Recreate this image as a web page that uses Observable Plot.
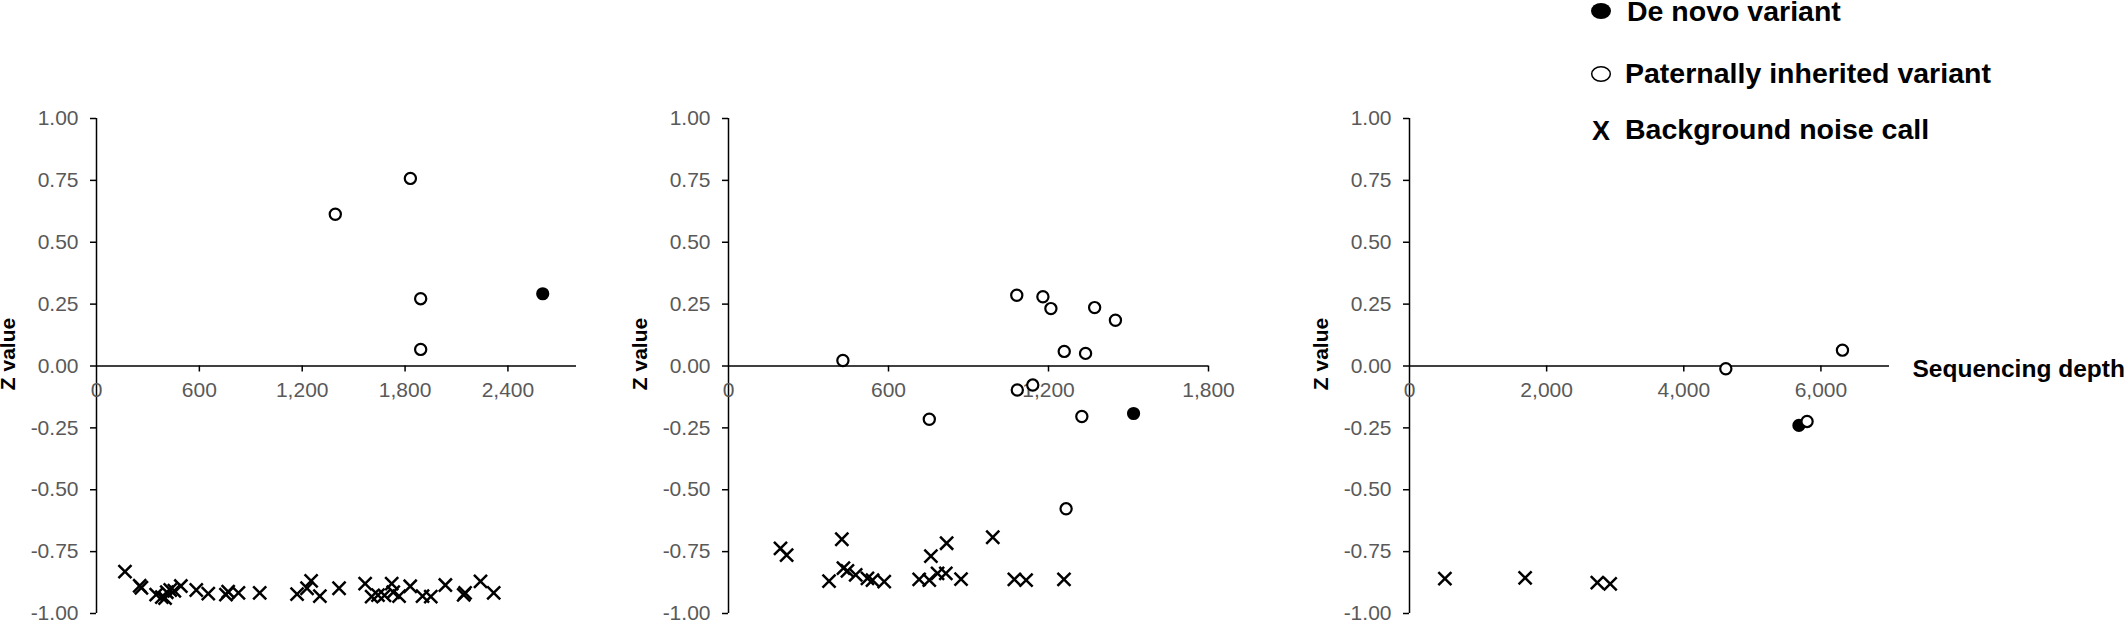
<!DOCTYPE html>
<html>
<head>
<meta charset="utf-8">
<script src="https://cdn.jsdelivr.net/npm/d3@7"></script>
<script src="https://cdn.jsdelivr.net/npm/@observablehq/plot@0.6"></script>
<style>
  html, body { margin: 0; padding: 0; background: #fff; }
  #wrap { position: relative; width: 2126px; height: 622px; overflow: hidden; }
  #wrap > svg, #wrap > figure { position: absolute; top: 0; margin: 0; }
</style>
</head>
<body>
<div id="wrap"></div>
<script>
// ---------- data: [sequencing depth, Z value] ----------
const yTicks = [-1, -0.75, -0.5, -0.25, 0, 0.25, 0.5, 0.75, 1];

const p1Ticks = [0, 600, 1200, 1800, 2400];
const p1DeNovo = [[2603, 0.292]];
const p1Paternal = [[1393, 0.613], [1831, 0.758], [1891, 0.272], [1891, 0.067]];
const p1Noise = [
  [166, -0.831], [252, -0.888], [262, -0.896], [348, -0.924], [381, -0.934], [400, -0.938],
  [410, -0.914], [430, -0.905], [454, -0.908], [492, -0.889], [582, -0.905], [652, -0.920],
  [755, -0.924], [768, -0.912], [828, -0.917], [952, -0.917], [1170, -0.922], [1228, -0.898],
  [1252, -0.868], [1303, -0.930], [1415, -0.898], [1567, -0.879], [1605, -0.932], [1642, -0.926],
  [1680, -0.927], [1722, -0.879], [1731, -0.914], [1765, -0.930], [1830, -0.890], [1902, -0.930],
  [1950, -0.932], [2035, -0.885], [2142, -0.925], [2150, -0.917], [2240, -0.870], [2317, -0.917]
];

const p2Ticks = [0, 600, 1200, 1800];
const p2DeNovo = [[1519, -0.192]];
const p2Paternal = [
  [429, 0.022], [1081, 0.286], [1179, 0.280], [1209, 0.232], [1373, 0.236], [1451, 0.185],
  [1259, 0.059], [1339, 0.051], [1141, -0.077], [1083, -0.097], [753, -0.215], [1325, -0.204],
  [1266, -0.577]
];
const p2Noise = [
  [195, -0.737], [218, -0.764], [425, -0.700], [377, -0.869], [431, -0.817], [446, -0.828],
  [477, -0.844], [521, -0.858], [540, -0.865], [584, -0.871], [715, -0.862], [753, -0.865],
  [759, -0.768], [784, -0.838], [815, -0.838], [818, -0.716], [872, -0.861], [991, -0.692],
  [1072, -0.862], [1116, -0.865], [1258, -0.862]
];

const p3Ticks = [0, 2000, 4000, 6000];
const p3DeNovo = [[5679, -0.240]];
const p3Paternal = [[4613, -0.011], [6314, 0.064], [5798, -0.224]];
const p3Noise = [[516, -0.859], [1686, -0.856], [2739, -0.875], [2927, -0.880]];

const legendLabels = ["De novo variant", "Paternally inherited variant", "Background noise call"];

// ---------- drawing ----------
const FONT = "'Liberation Sans', Arial, Helvetica, sans-serif";
const GRAY = "#595959";
const fmtX = d3.format(",");

function panel({left, xMax, ticks, deNovo, paternal, noise, marginRight, xLabel}) {
  const marks = [
    Plot.axisY(yTicks, {
      tickSize: 6, tickPadding: 12, tickFormat: d => d.toFixed(2),
      fontSize: 21, color: GRAY, stroke: "black", strokeWidth: 1.5, label: null
    }),
    Plot.ruleX([0], {strokeWidth: 1.5}),
    Plot.ruleY([0], {strokeWidth: 1.5}),
    Plot.ruleX(ticks.filter(d => d > 0), {x: d => d, y1: d => 0, y2: d => 0, insetBottom: -6, strokeWidth: 1.5}),
    Plot.text(ticks, {x: d => d, y: d => 0, text: d => fmtX(d), dy: 24, lineAnchor: "middle", fill: GRAY, fontSize: 21}),
    Plot.text(["Z value"], {frameAnchor: "left", dx: -82, dy: -12, rotate: -90, textAnchor: "middle",
      lineAnchor: "bottom", fontWeight: "bold", fontSize: 21, fill: "black"}),
    Plot.dot(deNovo, {x: d => d[0], y: d => d[1], r: 5.6, fill: "black", stroke: "black", strokeWidth: 2}),
    Plot.dot(paternal, {x: d => d[0], y: d => d[1], r: 5.6, fill: "white", stroke: "black", strokeWidth: 2.2}),
    Plot.dot(noise, {x: d => d[0], y: d => d[1], symbol: "times", r: 6, stroke: "black", strokeWidth: 2.5})
  ];
  if (xLabel) {
    marks.push(Plot.text([xLabel], {frameAnchor: "right", y: d => 0, dx: 23, dy: 3, textAnchor: "start",
      lineAnchor: "middle", fontWeight: "bold", fontSize: 24.5, fill: "black"}));
  }
  const svg = Plot.plot({
    width: 96 + 480 + marginRight, height: 622,
    marginTop: 118, marginBottom: 9, marginLeft: 96, marginRight,
    x: {domain: [0, xMax], axis: null},
    y: {domain: [-1, 1], axis: null},
    style: {fontFamily: FONT, background: "transparent", overflow: "visible", color: "black"},
    marks
  });
  svg.style.left = left + "px";
  return svg;
}

const wrap = document.getElementById("wrap");
wrap.appendChild(panel({left: 0, xMax: 2800, ticks: p1Ticks, deNovo: p1DeNovo, paternal: p1Paternal, noise: p1Noise, marginRight: 20}));
wrap.appendChild(panel({left: 632, xMax: 1800, ticks: p2Ticks, deNovo: p2DeNovo, paternal: p2Paternal, noise: p2Noise, marginRight: 20}));
wrap.appendChild(panel({left: 1313, xMax: 7000, ticks: p3Ticks, deNovo: p3DeNovo, paternal: p3Paternal, noise: p3Noise, marginRight: 237, xLabel: "Sequencing depth"}));

// legend overlay (top right)
const leg = d3.select(wrap).append("svg")
  .attr("width", 2126).attr("height", 622)
  .style("left", "0px").style("pointer-events", "none")
  .style("font-family", FONT);
leg.append("ellipse").attr("cx", 1601).attr("cy", 11).attr("rx", 10).attr("ry", 8).attr("fill", "black");
leg.append("ellipse").attr("cx", 1601).attr("cy", 74).attr("rx", 9.3).attr("ry", 7.3)
  .attr("fill", "white").attr("stroke", "black").attr("stroke-width", 1.5);
leg.append("text").attr("x", 1592).attr("y", 140).attr("font-size", 27).attr("font-weight", "bold").text("X");
const rows = [[1627, 21], [1625, 83], [1625, 139]];
legendLabels.forEach((t, i) => {
  leg.append("text").attr("x", rows[i][0]).attr("y", rows[i][1])
    .attr("font-size", 28.5).attr("font-weight", "bold").attr("fill", "black").text(t);
});
</script>
</body>
</html>
